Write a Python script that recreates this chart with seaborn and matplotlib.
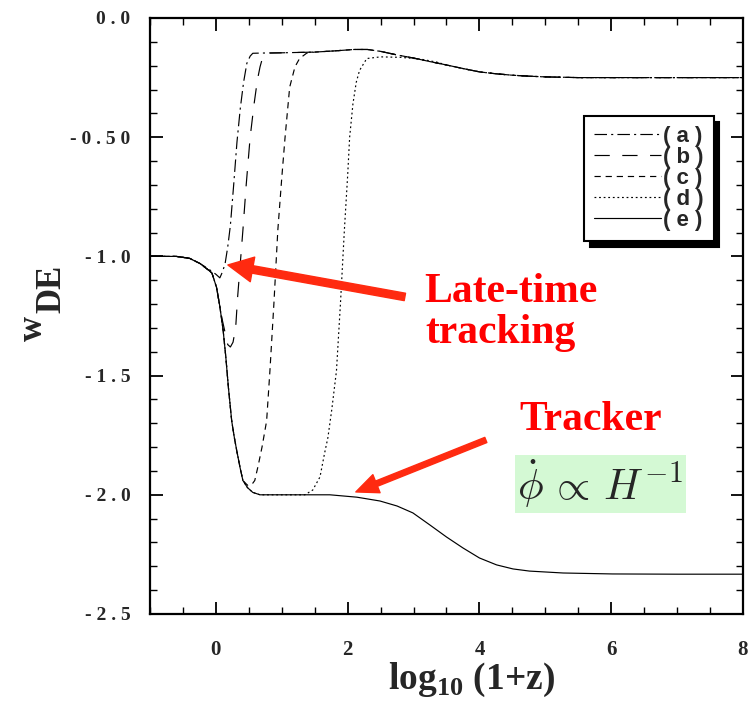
import matplotlib
matplotlib.use("Agg")
import matplotlib.pyplot as plt
import pandas as pd
import seaborn as sns
from matplotlib.ticker import MultipleLocator, FixedLocator, FixedFormatter

# (e) pure tracker: log10(1+z) vs w_DE
track_x = [-1.0, -0.6, -0.4, -0.24, -0.1, -0.06, 0.01, 0.06, 0.11, 0.15, 0.19, 0.24,
           0.28, 0.32, 0.37, 0.41, 0.48, 0.56, 0.67, 0.8, 1.0, 1.4, 1.73, 2.14, 2.49,
           2.75, 2.99, 3.25, 3.5, 3.75, 4.0, 4.26, 4.51, 4.76, 5.27, 6.02, 7.0, 8.0]
track_w = [-1.0, -1.0, -1.008, -1.03, -1.06, -1.07, -1.13, -1.21, -1.31, -1.42, -1.55, -1.69,
           -1.76, -1.82, -1.89, -1.94, -1.97, -1.99, -2.0, -2.0, -2.0, -2.0, -2.0, -2.01, -2.026,
           -2.047, -2.076, -2.127, -2.177, -2.223, -2.265, -2.294, -2.311, -2.32, -2.328, -2.332,
           -2.333, -2.333]

# late-time tracking branch shared by (a)-(d)
late_x = [1.0, 1.5, 1.8, 2.1, 2.3, 2.5, 2.75, 3.0, 3.25, 3.5, 3.75, 4.0, 4.25, 4.5,
          4.75, 5.0, 5.5, 6.0, 7.0, 8.0]
late_w = [-0.146, -0.143, -0.138, -0.132, -0.132, -0.140, -0.155, -0.168, -0.183, -0.197,
          -0.212, -0.226, -0.234, -0.240, -0.244, -0.247, -0.25, -0.25, -0.25, -0.25]

# individual departures from the tracker
a_x = [-0.1, 0.0, 0.06, 0.1, 0.14, 0.18, 0.22, 0.27, 0.32, 0.37, 0.42, 0.47, 0.52, 0.56, 0.7]
a_w = [-1.055, -1.075, -1.09, -1.065, -1.03, -0.96, -0.87, -0.70, -0.52, -0.38, -0.27,
       -0.19, -0.16, -0.148, -0.147]
b_x = [0.1, 0.14, 0.18, 0.22, 0.26, 0.3, 0.33, 0.37, 0.41, 0.46, 0.52, 0.58, 0.63, 0.67,
       0.71, 0.76, 0.82]
b_w = [-1.27, -1.32, -1.37, -1.38, -1.36, -1.30, -1.17, -1.03, -0.89, -0.70, -0.50, -0.36,
       -0.26, -0.205, -0.165, -0.152, -0.147]
c_x = [0.48, 0.55, 0.59, 0.64, 0.7, 0.77, 0.82, 0.88, 0.94, 1.0, 1.05, 1.12, 1.2, 1.27, 1.38]
c_w = [-1.96, -1.955, -1.94, -1.88, -1.8, -1.69, -1.48, -1.2, -0.89, -0.67, -0.5, -0.29,
       -0.205, -0.17, -0.147]
d_x = [1.35, 1.47, 1.58, 1.65, 1.7, 1.76, 1.83, 1.89, 1.95, 2.0, 2.03, 2.08, 2.13, 2.18,
       2.29, 2.5, 2.8, 3.1, 3.35]
d_w = [-2.0, -1.98, -1.925, -1.825, -1.76, -1.64, -1.48, -1.2, -0.89, -0.66, -0.5, -0.36,
       -0.27, -0.22, -0.17, -0.163, -0.165, -0.172, -0.185]

labels = ["( a )", "( b )", "( c )", "( d )", "( e )"]
departs = [-0.24, 0.06, 0.41, 1.0]
joins = [1.0, 1.0, 1.5, 3.5]
styles = [(0, (9, 3, 1.5, 3)), (0, (11, 9)), (0, (4.5, 3.5)), (0, (1.3, 2)), "-"]

RED = "#ff0000"
ARROW = "#ff2a10"


def build(depart, bx, bw, join):
    xs = [x for x in track_x if x <= depart] + bx + [x for x in late_x if x >= join]
    ws = ([w for x, w in zip(track_x, track_w) if x <= depart] + bw
          + [w for x, w in zip(late_x, late_w) if x >= join])
    return xs, ws


series = [build(dp, bx, bw, jn) for dp, bx, bw, jn in
          zip(departs, [a_x, b_x, c_x, d_x], [a_w, b_w, c_w, d_w], joins)]
series.append((track_x, track_w))

sns.set_style("ticks")
plt.rcParams["font.family"] = ["Liberation Serif", "DejaVu Serif"]
plt.rcParams["font.weight"] = "bold"
plt.rcParams["lines.scale_dashes"] = False
plt.rcParams["mathtext.fontset"] = "custom"
plt.rcParams["mathtext.rm"] = "Liberation Serif"
plt.rcParams["mathtext.bf"] = "Liberation Serif:bold"

fig = plt.figure(figsize=(7.49, 7.01), dpi=100)
ax = fig.add_axes([150 / 749, 87 / 701, 593 / 749, 596 / 701])

for lab, ls, (xs, ws) in zip(labels, styles, series):
    df = pd.DataFrame({"x": xs, "w": ws})
    sns.lineplot(data=df, x="x", y="w", ax=ax, color="black", lw=0.85,
                 linestyle=ls, estimator=None, sort=False, label=lab)

ax.set_xlim(-1, 8)
ax.set_ylim(-2.5, 0)
ax.set_xlabel("")
ax.set_ylabel("")

ax.xaxis.set_major_locator(FixedLocator([0, 2, 4, 6, 8]))
ax.xaxis.set_minor_locator(MultipleLocator(0.5))
yt = [0.0, -0.5, -1.0, -1.5, -2.0, -2.5]
ax.yaxis.set_major_locator(FixedLocator(yt))
ax.yaxis.set_major_formatter(FixedFormatter(["0 . 0", "- 0 . 5 0", "- 1 . 0", "- 1 . 5",
                                             "- 2 . 0", "- 2 . 5"]))
ax.yaxis.set_minor_locator(MultipleLocator(0.1))
ax.tick_params(which="both", direction="in", top=True, right=True, color="black")
ax.tick_params(which="major", length=9, width=1.3)
ax.tick_params(which="minor", length=5, width=1.0)
ax.tick_params(axis="x", labelsize=15, pad=19)
ax.tick_params(axis="y", labelsize=14, pad=14)
for sp in ax.spines.values():
    sp.set_color("black")
    sp.set_linewidth(1.6)

leg = ax.legend(loc="upper left", bbox_to_anchor=(584 / 749, 1 - 116 / 701),
                bbox_transform=fig.transFigure, borderaxespad=0, fancybox=False,
                framealpha=1, edgecolor="black", labelspacing=0.0, handlelength=3.0,
                handletextpad=0.1, borderpad=0.45,
                prop={"family": "Liberation Sans", "weight": "bold", "size": 16},
                shadow={"color": "black", "alpha": 1, "ox": 4, "oy": -4})
leg.get_frame().set_linewidth(1.5)

# axis titles
fig.text(42 / 749, 1 - 341 / 701, "w", rotation=90, rotation_mode="anchor",
         ha="left", va="baseline", fontsize=25, fontweight="bold")
fig.text(60 / 749, 1 - 313 / 701, "DE", rotation=90, rotation_mode="anchor",
         ha="left", va="baseline", fontsize=25, fontweight="bold")
fig.text(388 / 749, 1 - 689 / 701, r"log$_{\mathbf{10}}$ (1+z)", ha="left", va="baseline",
         fontsize=27, fontweight="bold")

# annotations
ax.annotate("", xy=(0.182, -1.036), xytext=(2.868, -1.170),
            arrowprops=dict(arrowstyle="simple,head_length=0.9,head_width=0.9,tail_width=0.27",
                            color=ARROW, mutation_scale=20, shrinkA=0, shrinkB=0))
ax.annotate("", xy=(2.124, -1.988), xytext=(4.097, -1.770),
            arrowprops=dict(arrowstyle="simple,head_length=0.8,head_width=0.7,tail_width=0.2",
                            color=ARROW, mutation_scale=20, shrinkA=0, shrinkB=0))
ax.text(3.156, -1.191, "Late-time", color=RED, fontsize=30, fontweight="bold", va="baseline")
ax.text(3.18, -1.363, "tracking", color=RED, fontsize=30, fontweight="bold", va="baseline")
ax.text(4.613, -1.728, "Tracker", color=RED, fontsize=30, fontweight="bold", va="baseline")
ax.text(4.575, -2.022, r"$\dot{\phi}\,\propto\,H^{-1}$", math_fontfamily="cm", fontsize=31,
        va="baseline", ha="left",
        bbox=dict(boxstyle="square,pad=0.06", facecolor="#d4f9d4", edgecolor="none"))

fig.savefig("out.png", dpi=100)
